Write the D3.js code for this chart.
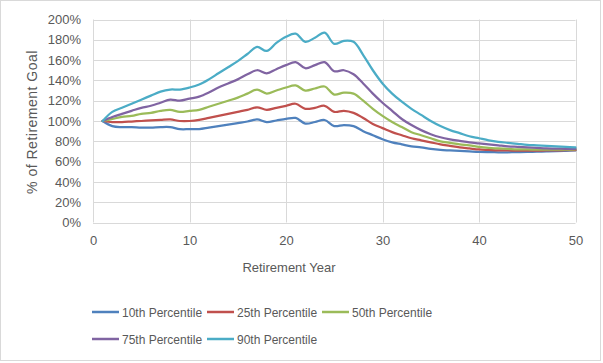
<!DOCTYPE html>
<html>
<head>
<meta charset="utf-8">
<script src="https://cdn.jsdelivr.net/npm/d3@7"></script>
<style>
  html, body { margin: 0; padding: 0; background: #fff; }
  svg { display: block; font-family: "Liberation Sans", Arial, sans-serif; }
</style>
</head>
<body>
<svg id="chart" width="603" height="363"></svg>
<script>
const years = d3.range(1, 51);
const seriesNames = ["10th Percentile", "25th Percentile", "50th Percentile", "75th Percentile", "90th Percentile"];
const seriesColors = ["#4F81BD", "#C0504D", "#9BBB59", "#8064A2", "#4BACC6"];
const yTicks = [0, 20, 40, 60, 80, 100, 120, 140, 160, 180, 200];
const xTicks = [0, 10, 20, 30, 40, 50];

const p10 = [100, 95, 94, 94, 93.5, 93.5, 94, 94, 92, 92,
             92, 93.5, 95, 96.5, 98, 99.5, 101.5, 99, 100.5, 102,
             103, 97.5, 99, 101, 95, 96, 95, 90, 86, 82,
             79, 77, 75, 74, 72.5, 71.5, 71, 70.5, 70, 69.5,
             69.3, 69.2, 69.2, 69.3, 69.5, 69.8, 70, 70.3, 70.6, 71];
const p25 = [100, 99, 99, 99.5, 100, 100.5, 101, 101.5, 100, 100,
             101, 103, 105, 107, 109, 111, 113.5, 111, 113, 115,
             117, 112, 113, 115, 109, 110, 108, 103, 97, 93,
             89, 86, 83, 81, 79, 77, 75.5, 74, 73, 72,
             71.5, 71, 71, 70.8, 70.8, 70.8, 71, 71, 71.2, 71.3];
const p50 = [100, 102, 104, 105, 107, 108, 110, 111, 109, 110,
             111, 114, 117, 120, 123, 127, 131, 127, 130, 133,
             135, 130, 132, 134, 126, 128, 127, 120, 112, 105,
             99, 94, 89, 86, 83, 80, 78.5, 77, 76, 74.5,
             73.5, 73, 72.5, 72, 72, 71.8, 71.8, 71.8, 71.8, 72];
const p75 = [100, 104, 107, 110, 113, 115, 118, 121, 120, 122,
             124, 128, 133, 137, 141, 146, 150, 147, 151, 155,
             158, 152, 155, 158, 149, 150, 146, 137, 127, 118,
             110, 102, 96, 91, 87, 84, 82, 80.5, 79, 78,
             77, 76, 75, 74.5, 74, 73.5, 73, 72.8, 72.5, 72.5];
const p90 = [100, 109, 113, 117, 121, 125, 129, 131, 131, 133,
             136, 141, 147, 153, 159, 166, 173, 169, 177, 183,
             186, 178, 182, 187, 176, 179, 178, 165, 150, 137,
             127, 119, 112, 106, 100, 95, 91, 88, 85, 83,
             81, 79.5, 78.5, 77.5, 76.5, 76, 75.5, 75, 74.5, 74];
const seriesValues = [p10, p25, p50, p75, p90];

const svg = d3.select("#chart");
const textColor = "#595959";
const gridColor = "#D9D9D9";

// outer border
svg.append("rect").attr("x", 0.5).attr("y", 0.5).attr("width", 600).attr("height", 360)
  .attr("fill", "#fff").attr("stroke", gridColor).attr("stroke-width", 1);

const x = d3.scaleLinear().domain([0, 50]).range([93, 575.5]);
const y = d3.scaleLinear().domain([0, 200]).range([222.5, 19.5]);

// horizontal gridlines
svg.append("g").selectAll("line").data(yTicks).join("line")
  .attr("x1", x(0)).attr("x2", x(50))
  .attr("y1", d => Math.round(y(d)) + 0.5).attr("y2", d => Math.round(y(d)) + 0.5)
  .attr("stroke", gridColor).attr("stroke-width", 1);
// vertical gridlines
svg.append("g").selectAll("line").data(xTicks).join("line")
  .attr("y1", y(0)).attr("y2", y(200))
  .attr("x1", d => Math.round(x(d)) + 0.5).attr("x2", d => Math.round(x(d)) + 0.5)
  .attr("stroke", gridColor).attr("stroke-width", 1);

// axes (labels only)
const yAxis = d3.axisLeft(y).tickValues(yTicks).tickFormat(d => d + "%").tickSize(0).tickPadding(0);
const gy = svg.append("g").attr("transform", "translate(81,0)").call(yAxis);
gy.select(".domain").remove();
gy.selectAll("text").attr("fill", textColor).attr("font-size", 13)
  .attr("font-family", "Liberation Sans, Arial, sans-serif");

const xAxis = d3.axisBottom(x).tickValues(xTicks).tickFormat(d3.format("d")).tickSize(0).tickPadding(0);
const gx = svg.append("g").attr("transform", "translate(0,236)").call(xAxis);
gx.select(".domain").remove();
gx.selectAll("text").attr("fill", textColor).attr("font-size", 13)
  .attr("font-family", "Liberation Sans, Arial, sans-serif");

// axis titles
svg.append("text").attr("x", 289).attr("y", 272).attr("text-anchor", "middle")
  .attr("fill", textColor).attr("font-size", 13).text("Retirement Year");
svg.append("text").attr("transform", "translate(37,122) rotate(-90)").attr("text-anchor", "middle")
  .attr("fill", textColor).attr("font-size", 14).attr("letter-spacing", 0.5).text("% of Retirement Goal");

// lines
const line = d3.line().x((d, i) => x(years[i])).y(d => y(d)).curve(d3.curveCatmullRom.alpha(0.5));
svg.append("g").selectAll("path").data(seriesValues).join("path")
  .attr("d", d => line(d)).attr("fill", "none")
  .attr("stroke", (d, i) => seriesColors[i]).attr("stroke-width", 2.25)
  .attr("stroke-linejoin", "round").attr("stroke-linecap", "round");

// legend
const legend = svg.append("g");
const items = legend.selectAll("g").data(seriesNames).join("g")
  .attr("transform", (d, i) => `translate(${92 + (i % 3) * 115},${i < 3 ? 312 : 339})`);
items.append("line").attr("x1", 0).attr("x2", 27).attr("y1", 0).attr("y2", 0)
  .attr("stroke", (d, i) => seriesColors[i]).attr("stroke-width", 2.5);
items.append("text").attr("x", 30).attr("y", 4.5).attr("fill", textColor).attr("font-size", 12).text(d => d);
</script>
</body>
</html>
